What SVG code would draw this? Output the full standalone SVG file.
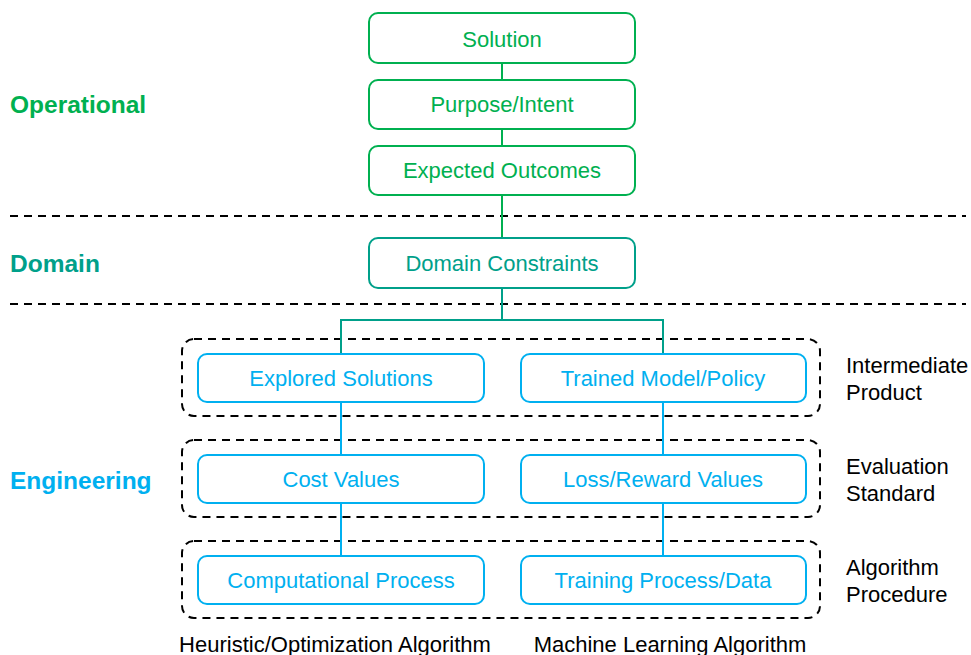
<svg xmlns="http://www.w3.org/2000/svg" width="971" height="655" viewBox="0 0 971 655">
<style>
.box{fill:#fff;stroke-width:2}
.g{stroke:#00B050}
.t{stroke:#00A08A}
.b{stroke:#00B0F0}
.bt{font-family:"Liberation Sans",Arial,sans-serif;font-size:22px;text-anchor:middle}
.lab{font-family:"Liberation Sans",Arial,sans-serif;font-size:22px;fill:#000}
.sec{font-family:"Liberation Sans",Arial,sans-serif;font-size:24.5px;font-weight:bold}
.dash{fill:none;stroke:#000;stroke-width:2;stroke-dasharray:8,6}
.ln{fill:none;stroke-width:2}
</style>
<rect width="971" height="655" fill="#fff"/>
<g id="separators">
<line class="dash" x1="10" y1="216" x2="966" y2="216"/>
<line class="dash" x1="10" y1="304" x2="966" y2="304"/>
</g>
<g id="section-labels">
<text class="sec" x="10" y="113" fill="#00B050">Operational</text>
<text class="sec" x="10" y="272" fill="#00A08A">Domain</text>
<text class="sec" x="10" y="489" fill="#00B0F0">Engineering</text>
</g>
<g id="groups">
<rect class="dash" x="182" y="339" width="638" height="77" rx="12"/>
<rect class="dash" x="182" y="440" width="638" height="77" rx="12"/>
<rect class="dash" x="182" y="541" width="638" height="77" rx="12"/>
</g>
<g id="connectors">
<line class="ln g" x1="502" y1="63" x2="502" y2="80"/>
<line class="ln g" x1="502" y1="129" x2="502" y2="146"/>
<line class="ln g" x1="502" y1="195" x2="502" y2="238"/>
<path class="ln t" d="M502 288 V320 M341 354 V320 H663 V354"/>
<line class="ln b" x1="341" y1="402" x2="341" y2="455"/>
<line class="ln b" x1="663" y1="402" x2="663" y2="455"/>
<line class="ln b" x1="341" y1="503" x2="341" y2="556"/>
<line class="ln b" x1="663" y1="503" x2="663" y2="556"/>
</g>
<g id="solution"><rect class="box g" x="369" y="13" width="266" height="50" rx="9"/><text class="bt" x="502" y="47" fill="#00B050">Solution</text></g>
<g id="purpose"><rect class="box g" x="369" y="80" width="266" height="49" rx="9"/><text class="bt" x="502" y="112" fill="#00B050">Purpose/Intent</text></g>
<g id="outcomes"><rect class="box g" x="369" y="146" width="266" height="49" rx="9"/><text class="bt" x="502" y="178" fill="#00B050">Expected Outcomes</text></g>
<g id="domain"><rect class="box t" x="369" y="238" width="266" height="50" rx="9"/><text class="bt" x="502" y="271" fill="#00A08A">Domain Constraints</text></g>
<g id="explored"><rect class="box b" x="198" y="354" width="286" height="48" rx="9"/><text class="bt" x="341" y="386" fill="#00B0F0">Explored Solutions</text></g>
<g id="trained"><rect class="box b" x="521" y="354" width="285" height="48" rx="9"/><text class="bt" x="663" y="386" fill="#00B0F0">Trained Model/Policy</text></g>
<g id="cost"><rect class="box b" x="198" y="455" width="286" height="48" rx="9"/><text class="bt" x="341" y="487" fill="#00B0F0">Cost Values</text></g>
<g id="loss"><rect class="box b" x="521" y="455" width="285" height="48" rx="9"/><text class="bt" x="663" y="487" fill="#00B0F0">Loss/Reward Values</text></g>
<g id="computational"><rect class="box b" x="198" y="556" width="286" height="48" rx="9"/><text class="bt" x="341" y="588" fill="#00B0F0">Computational Process</text></g>
<g id="training"><rect class="box b" x="521" y="556" width="285" height="48" rx="9"/><text class="bt" x="663" y="588" fill="#00B0F0">Training Process/Data</text></g>
<g id="right-labels">
<text class="lab" x="846" y="373">Intermediate</text>
<text class="lab" x="846" y="400">Product</text>
<text class="lab" x="846" y="474">Evaluation</text>
<text class="lab" x="846" y="501">Standard</text>
<text class="lab" x="846" y="575">Algorithm</text>
<text class="lab" x="846" y="602">Procedure</text>
</g>
<g id="bottom-labels">
<text class="lab" x="335" y="652" text-anchor="middle">Heuristic/Optimization Algorithm</text>
<text class="lab" x="670" y="652" text-anchor="middle">Machine Learning Algorithm</text>
</g>
</svg>
